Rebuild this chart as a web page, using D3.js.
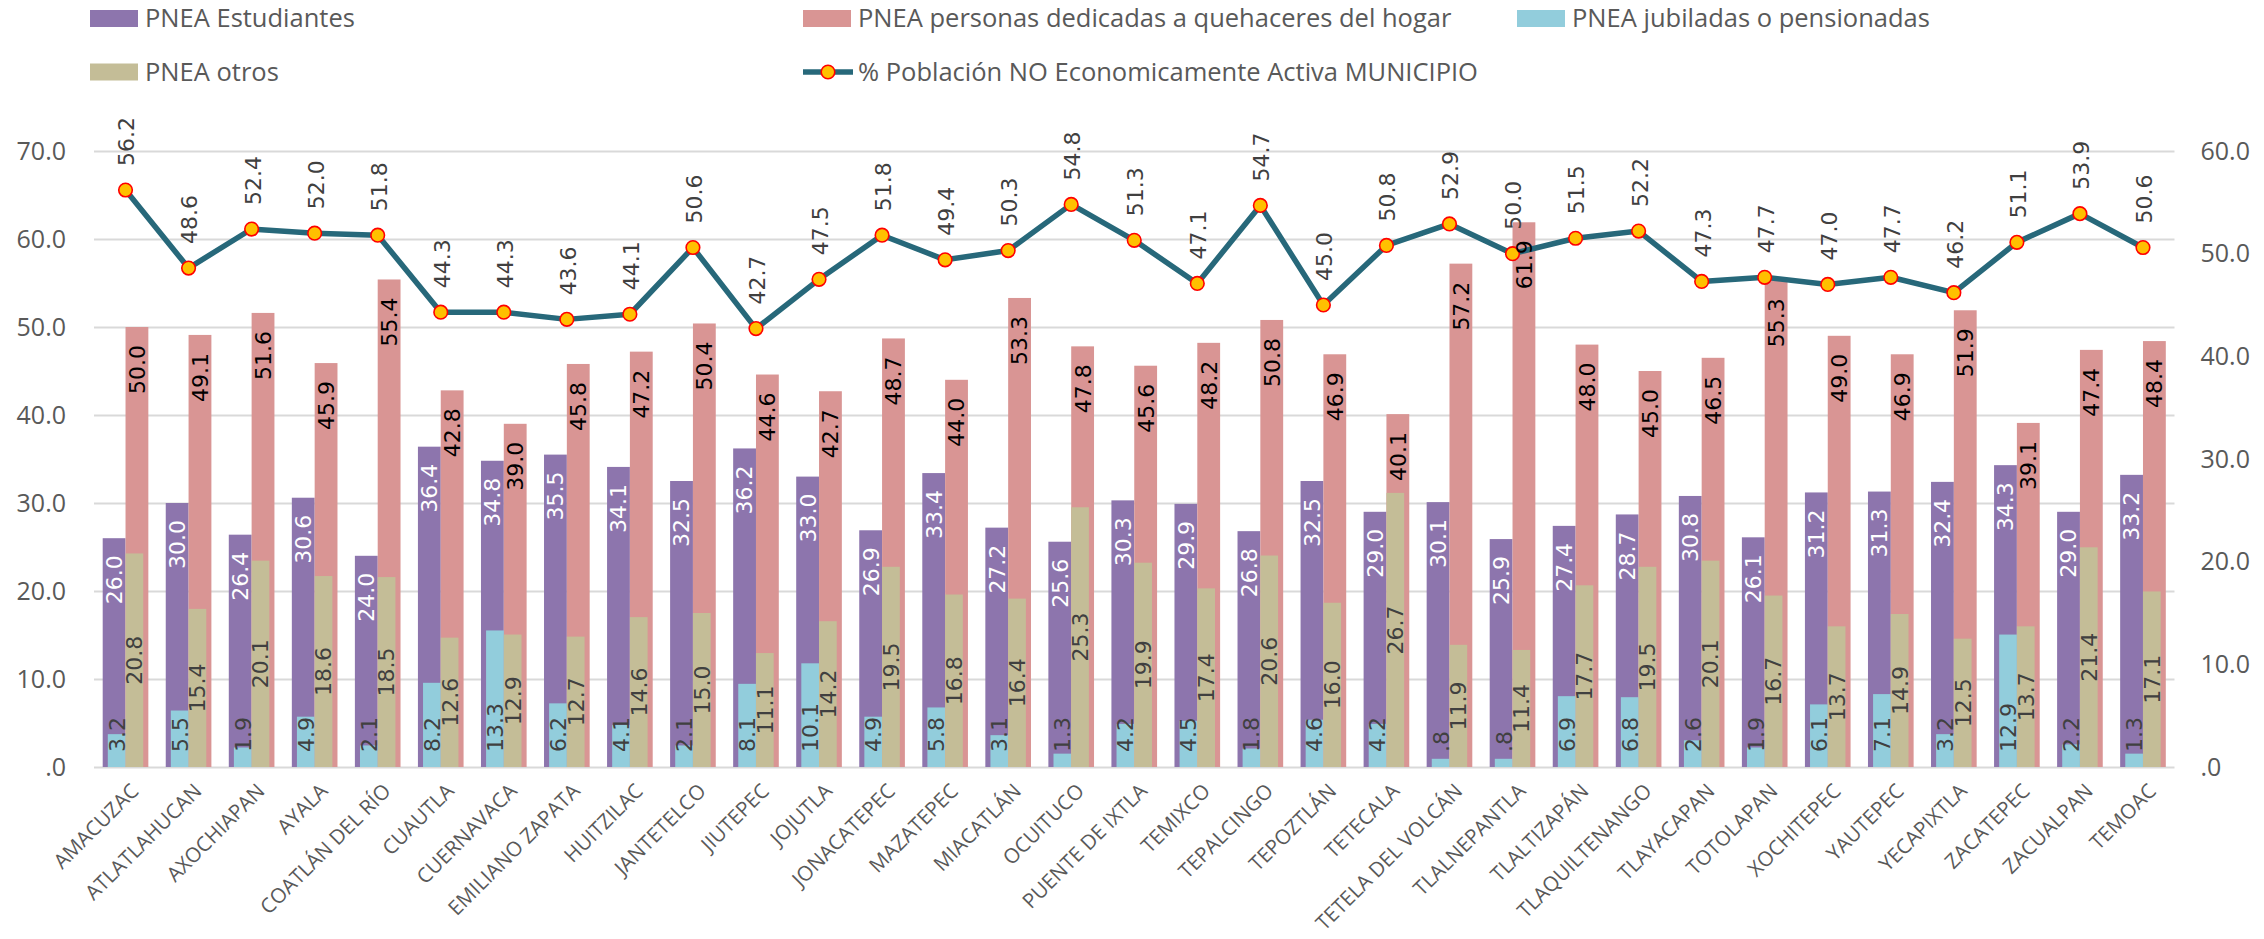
<!DOCTYPE html>
<html>
<head>
<meta charset="utf-8">
<script src="https://cdn.jsdelivr.net/npm/d3@7"></script>
<style>
  body { margin: 0; background: #fff; }
</style>
</head>
<body>
<svg id="chart" width="2264" height="939"></svg>
<script>
// municipios de Morelos
const municipios = ["AMACUZAC", "ATLATLAHUCAN", "AXOCHIAPAN", "AYALA", "COATLÁN DEL RÍO", "CUAUTLA",
  "CUERNAVACA", "EMILIANO ZAPATA", "HUITZILAC", "JANTETELCO", "JIUTEPEC", "JOJUTLA", "JONACATEPEC",
  "MAZATEPEC", "MIACATLÁN", "OCUITUCO", "PUENTE DE IXTLA", "TEMIXCO", "TEPALCINGO", "TEPOZTLÁN",
  "TETECALA", "TETELA DEL VOLCÁN", "TLALNEPANTLA", "TLALTIZAPÁN", "TLAQUILTENANGO", "TLAYACAPAN",
  "TOTOLAPAN", "XOCHITEPEC", "YAUTEPEC", "YECAPIXTLA", "ZACATEPEC", "ZACUALPAN", "TEMOAC"]

// eje primario
const estudiantes = [26.0, 30.0, 26.4, 30.6, 24.0, 36.4, 34.8, 35.5, 34.1, 32.5, 36.2, 33.0, 26.9,
  33.4, 27.2, 25.6, 30.3, 29.9, 26.8, 32.5, 29.0, 30.1, 25.9, 27.4, 28.7, 30.8, 26.1, 31.2, 31.3,
  32.4, 34.3, 29.0, 33.2]
const hogar = [50.0, 49.1, 51.6, 45.9, 55.4, 42.8, 39.0, 45.8, 47.2, 50.4, 44.6, 42.7, 48.7, 44.0,
  53.3, 47.8, 45.6, 48.2, 50.8, 46.9, 40.1, 57.2, 61.9, 48.0, 45.0, 46.5, 55.3, 49.0, 46.9, 51.9,
  39.1, 47.4, 48.4]

// eje secundario
const jubiladas = [3.2, 5.5, 1.9, 4.9, 2.1, 8.2, 13.3, 6.2, 4.1, 2.1, 8.1, 10.1, 4.9, 5.8, 3.1, 1.3,
  4.2, 4.5, 1.8, 4.6, 4.2, 0.8, 0.8, 6.9, 6.8, 2.6, 1.9, 6.1, 7.1, 3.2, 12.9, 2.2, 1.3]
const otros = [20.8, 15.4, 20.1, 18.6, 18.5, 12.6, 12.9, 12.7, 14.6, 15.0, 11.1, 14.2, 19.5, 16.8,
  16.4, 25.3, 19.9, 17.4, 20.6, 16.0, 26.7, 11.9, 11.4, 17.7, 19.5, 20.1, 16.7, 13.7, 14.9, 12.5,
  13.7, 21.4, 17.1]
const pneaMunicipio = [56.2, 48.6, 52.4, 52.0, 51.8, 44.3, 44.3, 43.6, 44.1, 50.6, 42.7, 47.5, 51.8,
  49.4, 50.3, 54.8, 51.3, 47.1, 54.7, 45.0, 50.8, 52.9, 50.0, 51.5, 52.2, 47.3, 47.7, 47.0, 47.7,
  46.2, 51.1, 53.9, 50.6]

const ticksIzq = [0, 10, 20, 30, 40, 50, 60, 70]
const ticksDer = [0, 10, 20, 30, 40, 50, 60]

const colores = {
  estudiantes: "#8d75ad",
  hogar: "#d99594",
  jubiladas: "#92cddc",
  otros: "#c4bd97",
  linea: "#27687a"
}

const svg = d3.select("#chart")
const plotLeft = 94, plotRight = 2174.5, plotTop = 151, plotBottom = 767

const x = d3.scaleBand().domain(municipios).range([plotLeft, plotRight]).padding(0)
const yL = d3.scaleLinear().domain([0, 70]).range([plotBottom, plotTop])
const yR = d3.scaleLinear().domain([0, 60]).range([plotBottom, plotTop])
const cx = d => x(d) + x.bandwidth() / 2
const fmt = v => d3.format(".1f")(v).replace(/^0\./, ".")

const labelFont = "'DejaVu Sans', Verdana, sans-serif"
const textFont = "'Open Sans', 'Segoe UI', sans-serif"

// rejilla + eje izquierdo
const axL = svg.append("g")
  .attr("transform", `translate(${plotLeft},0)`)
  .call(d3.axisLeft(yL).tickValues(ticksIzq).tickFormat(fmt).tickSize(-(plotRight - plotLeft)).tickPadding(28))
axL.select(".domain").remove()
axL.selectAll(".tick line").attr("stroke", "#d9d9d9").attr("stroke-width", 2)
axL.selectAll(".tick text").attr("fill", "#595959").style("font", `25px ${textFont}`)

const axR = svg.append("g")
  .attr("transform", `translate(${plotRight},0)`)
  .call(d3.axisRight(yR).tickValues(ticksDer).tickFormat(fmt).tickSize(0).tickPadding(26))
axR.select(".domain").remove()
axR.selectAll(".tick text").attr("fill", "#595959").style("font", `25px ${textFont}`)

// eje x
svg.append("g").selectAll("text")
  .data(municipios)
  .join("text")
  .attr("transform", d => `translate(${cx(d) + 4},${plotBottom + 15}) rotate(-45)`)
  .attr("text-anchor", "end")
  .attr("dy", "0.71em")
  .attr("fill", "#595959")
  .style("font", `20.5px ${textFont}`)
  .text(d => d)

const pw = x.bandwidth() * 0.362
const sw = x.bandwidth() * 0.281

function barras(values, scale, w, side, color) {
  svg.append("g").selectAll("rect")
    .data(values)
    .join("rect")
    .attr("x", (v, i) => side < 0 ? cx(municipios[i]) - w : cx(municipios[i]))
    .attr("width", w)
    .attr("y", v => scale(v))
    .attr("height", v => plotBottom - scale(v))
    .attr("fill", color)
}

barras(estudiantes, yL, pw, -1, colores.estudiantes)
barras(hogar, yL, pw, 1, colores.hogar)
barras(jubiladas, yR, sw, -1, colores.jubiladas)
barras(otros, yR, sw, 1, colores.otros)

// linea % PNEA
const linea = d3.line()
  .x((v, i) => cx(municipios[i]))
  .y(v => yR(v))

svg.append("path")
  .datum(pneaMunicipio)
  .attr("d", linea)
  .attr("fill", "none")
  .attr("stroke", colores.linea)
  .attr("stroke-width", 5.5)
  .attr("stroke-linejoin", "round")

svg.append("g").selectAll("circle")
  .data(pneaMunicipio)
  .join("circle")
  .attr("cx", (v, i) => cx(municipios[i]))
  .attr("cy", v => yR(v))
  .attr("r", 6.8)
  .attr("fill", "#ffc000")
  .attr("stroke", "#ff0000")
  .attr("stroke-width", 1.6)

// etiquetas de datos, giradas
function etiquetas(values, xpos, ypos, anchor, color) {
  svg.append("g").selectAll("text")
    .data(values)
    .join("text")
    .attr("transform", (v, i) => `translate(${xpos(v, i)},${ypos(v, i)}) rotate(-90)`)
    .attr("text-anchor", anchor)
    .attr("dy", "0.36em")
    .attr("fill", color)
    .style("font", `22px ${labelFont}`)
    .text(v => fmt(v))
}

etiquetas(estudiantes, (v, i) => cx(municipios[i]) - pw / 2, v => yL(v) + 17, "end", "#ffffff")
etiquetas(hogar, (v, i) => cx(municipios[i]) + pw / 2, v => yL(v) + 18, "end", "#000000")
etiquetas(jubiladas, (v, i) => cx(municipios[i]) - sw / 2, v => plotBottom - 15, "start", "#404040")
etiquetas(otros, (v, i) => cx(municipios[i]) + sw / 2, v => (yR(v) + plotBottom) / 2, "middle", "#404040")
etiquetas(pneaMunicipio, (v, i) => cx(municipios[i]) + 1, v => yR(v) - 24, "start", "#404040")

// leyenda
const leyenda = [
  { name: "PNEA Estudiantes", color: colores.estudiantes, x: 90, y: 18.5, tipo: "bar" },
  { name: "PNEA personas dedicadas a quehaceres del hogar", color: colores.hogar, x: 803, y: 18.5, tipo: "bar" },
  { name: "PNEA jubiladas o pensionadas", color: colores.jubiladas, x: 1517, y: 18.5, tipo: "bar" },
  { name: "PNEA otros", color: colores.otros, x: 90, y: 72, tipo: "bar" },
  { name: "% Población NO Economicamente Activa MUNICIPIO", color: colores.linea, x: 803, y: 72, tipo: "line" }
]

const lg = svg.append("g").selectAll("g")
  .data(leyenda)
  .join("g")
  .attr("transform", d => `translate(${d.x},${d.y})`)

lg.filter(d => d.tipo === "bar").append("rect")
  .attr("x", 0).attr("y", -8.5).attr("width", 48).attr("height", 17)
  .attr("fill", d => d.color)

const lgLine = lg.filter(d => d.tipo === "line")
lgLine.append("line")
  .attr("x1", 0).attr("x2", 50).attr("y1", 0).attr("y2", 0)
  .attr("stroke", d => d.color).attr("stroke-width", 5.5)
lgLine.append("circle")
  .attr("cx", 25).attr("cy", 0).attr("r", 6.8)
  .attr("fill", "#ffc000").attr("stroke", "#ff0000").attr("stroke-width", 1.6)

lg.append("text")
  .attr("x", 55)
  .attr("dy", "0.35em")
  .attr("fill", "#595959")
  .style("font", `25.5px ${textFont}`)
  .text(d => d.name)
</script>
</body>
</html>
